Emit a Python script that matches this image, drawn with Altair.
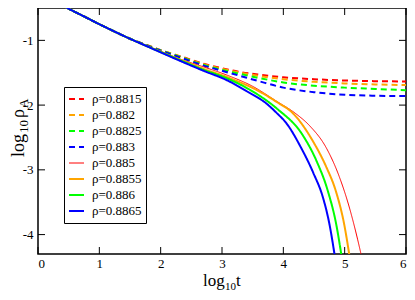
import altair as alt
import pandas as pd

# ---------------- data ----------------
labels = ["ρ=0.8815", "ρ=0.882", "ρ=0.8825", "ρ=0.883",
          "ρ=0.885", "ρ=0.8855", "ρ=0.886", "ρ=0.8865"]
colors = ["#ff0000", "#ffa500", "#00ff00", "#0000ff",
          "#ff0000", "#ffa500", "#00ff00", "#0000ff"]

# shared early-time part (all curves coincide)
head_x = [0.3, 0.5, 0.75, 1.0, 1.25, 1.5]
head_y = [-0.40, -0.51, -0.63, -0.75, -0.865, -0.975]

# dashed curves (active phase)
dash_x = [1.75, 2.0, 2.35, 2.7, 3.0, 3.3, 3.6, 4.0, 4.5, 5.0, 5.5, 6.0]
y_8815 = [-1.065, -1.15, -1.255, -1.36, -1.43, -1.49, -1.53, -1.57, -1.60, -1.62, -1.63, -1.635]
y_882 = [-1.065, -1.15, -1.26, -1.37, -1.44, -1.50, -1.55, -1.60, -1.64, -1.665, -1.68, -1.69]
y_8825 = [-1.067, -1.155, -1.265, -1.38, -1.455, -1.52, -1.58, -1.65, -1.70, -1.73, -1.75, -1.77]
y_883 = [-1.07, -1.16, -1.275, -1.39, -1.47, -1.55, -1.63, -1.73, -1.80, -1.84, -1.855, -1.86]

# solid curves (absorbing phase)
x_885 = [1.75, 2.0, 2.35, 2.7, 3.09, 3.5, 3.89, 4.2, 4.43, 4.70, 4.91, 5.07, 5.21, 5.29]
y_885 = [-1.075, -1.17, -1.30, -1.41, -1.54, -1.71, -1.94, -2.13, -2.32, -2.66, -3.10, -3.56, -4.07, -4.40]
x_8855 = [1.75, 2.0, 2.35, 2.7, 3.09, 3.63, 3.89, 4.16, 4.49, 4.70, 4.86, 4.99, 5.09]
y_8855 = [-1.077, -1.175, -1.31, -1.44, -1.57, -1.80, -1.95, -2.13, -2.57, -2.955, -3.34, -3.83, -4.40]
x_886 = [1.75, 2.0, 2.35, 2.7, 3.09, 3.52, 3.89, 4.32, 4.54, 4.73, 4.86, 4.96]
y_886 = [-1.079, -1.18, -1.32, -1.455, -1.59, -1.80, -2.05, -2.47, -2.86, -3.34, -3.83, -4.40]
x_8865 = [1.75, 2.0, 2.35, 2.7, 3.09, 3.41, 3.73, 3.89, 4.05, 4.29, 4.49, 4.65, 4.75, 4.85]
y_8865 = [-1.08, -1.185, -1.33, -1.47, -1.62, -1.79, -1.98, -2.12, -2.28, -2.66, -3.05, -3.44, -3.83, -4.40]

x_ticks = [0, 1, 2, 3, 4, 5, 6]
y_ticks = [-4, -3, -2, -1]

# ---------------- build table ----------------
series = [
    (labels[0], dash_x, y_8815),
    (labels[1], dash_x, y_882),
    (labels[2], dash_x, y_8825),
    (labels[3], dash_x, y_883),
    (labels[4], x_885, y_885),
    (labels[5], x_8855, y_8855),
    (labels[6], x_886, y_886),
    (labels[7], x_8865, y_8865),
]
rows = []
for i, (lab, xs, ys) in enumerate(series):
    for xv, yv in zip(head_x + xs, head_y + ys):
        rows.append({"rho": lab, "x": xv, "y": yv, "k": i})
df = pd.DataFrame(rows)

W, H = 368, 246
FONT = "Liberation Serif"

xscale = alt.Scale(domain=[0, 6], nice=False, zero=False)
yscale = alt.Scale(domain=[-4.3, -0.5], nice=False, zero=False)

dashes = [[6, 4]] * 4 + [[1, 0]] * 4
widths = [2, 2, 2, 2, 1, 2, 2, 2]

lines = alt.Chart(df).mark_line(clip=True, interpolate="monotone").encode(
    x=alt.X("x:Q", scale=xscale,
            axis=alt.Axis(values=x_ticks, title=None, grid=False, domain=False,
                          ticks=False, labelPadding=3, labelFontSize=13,
                          labelFont=FONT, labelColor="#000",
                          labelExpr="'' + datum.value")),
    y=alt.Y("y:Q", scale=yscale,
            axis=alt.Axis(values=y_ticks, title=None, grid=False, domain=False,
                          ticks=False, labelPadding=5, labelFontSize=13,
                          labelFont=FONT, labelColor="#000",
                          labelExpr="'' + datum.value")),
    color=alt.Color("rho:N", scale=alt.Scale(domain=labels, range=colors), title=None),
    strokeDash=alt.StrokeDash("rho:N", scale=alt.Scale(domain=labels, range=dashes), title=None),
    strokeWidth=alt.StrokeWidth("rho:N", scale=alt.Scale(type="ordinal", domain=labels, range=widths),
                                title=None),
    detail="k:N",
)

xt = pd.DataFrame({"v": x_ticks})
yt = pd.DataFrame({"v": y_ticks})
TL = 7
tick_b = alt.Chart(xt).mark_rule(color="#000", strokeWidth=1).encode(
    x=alt.X("v:Q", scale=xscale), y=alt.value(H), y2=alt.value(H - TL))
tick_t = alt.Chart(xt).mark_rule(color="#000", strokeWidth=1).encode(
    x=alt.X("v:Q", scale=xscale), y=alt.value(0), y2=alt.value(TL))
tick_l = alt.Chart(yt).mark_rule(color="#000", strokeWidth=1).encode(
    y=alt.Y("v:Q", scale=yscale), x=alt.value(0), x2=alt.value(TL))
tick_r = alt.Chart(yt).mark_rule(color="#000", strokeWidth=1).encode(
    y=alt.Y("v:Q", scale=yscale), x=alt.value(W), x2=alt.value(W - TL))

one = pd.DataFrame({"a": [0]})


def txt(s, x, y, size, angle=0):
    return alt.Chart(one).mark_text(
        text=s, font=FONT, fontSize=size, align="left", baseline="alphabetic",
        angle=angle, color="#000").encode(x=alt.value(x), y=alt.value(y))


# x-axis title  log10 t
xt0 = 165
xtitle = (txt("log", xt0, 278, 17) + txt("10", xt0 + 22, 281.5, 11)
          + txt("t", xt0 + 33, 278, 17))
# y-axis title  log10 rho_A (rotated)
yb = 149
ytitle = (txt("log", -14, yb, 18, 270) + txt("10", -10.5, yb - 24, 13, 270)
          + txt("ρ", -14, yb - 39, 18, 270) + txt("A", -10.5, yb - 49, 13, 270))

chart = alt.layer(lines, tick_b, tick_t, tick_l, tick_r, xtitle, ytitle).properties(
    width=W, height=H,
    autosize=alt.AutoSizeParams(type="none"),
    padding={"left": 30, "top": 0, "right": 1, "bottom": 38},
).configure(
    font=FONT
).configure_axis(
    labelFont=FONT
).configure_view(
    stroke="#000", strokeWidth=1.5
).configure_legend(
    orient="none", legendX=26, legendY=79, strokeColor="#000", fillColor="#fff",
    padding=4, rowPadding=0, clipHeight=16, symbolType="stroke", symbolSize=225,
    labelFont=FONT, labelFontSize=13, labelColor="#000", labelOffset=7,
    cornerRadius=0,
)

chart.save("out.html", embed_options={"renderer": "svg", "actions": False})
